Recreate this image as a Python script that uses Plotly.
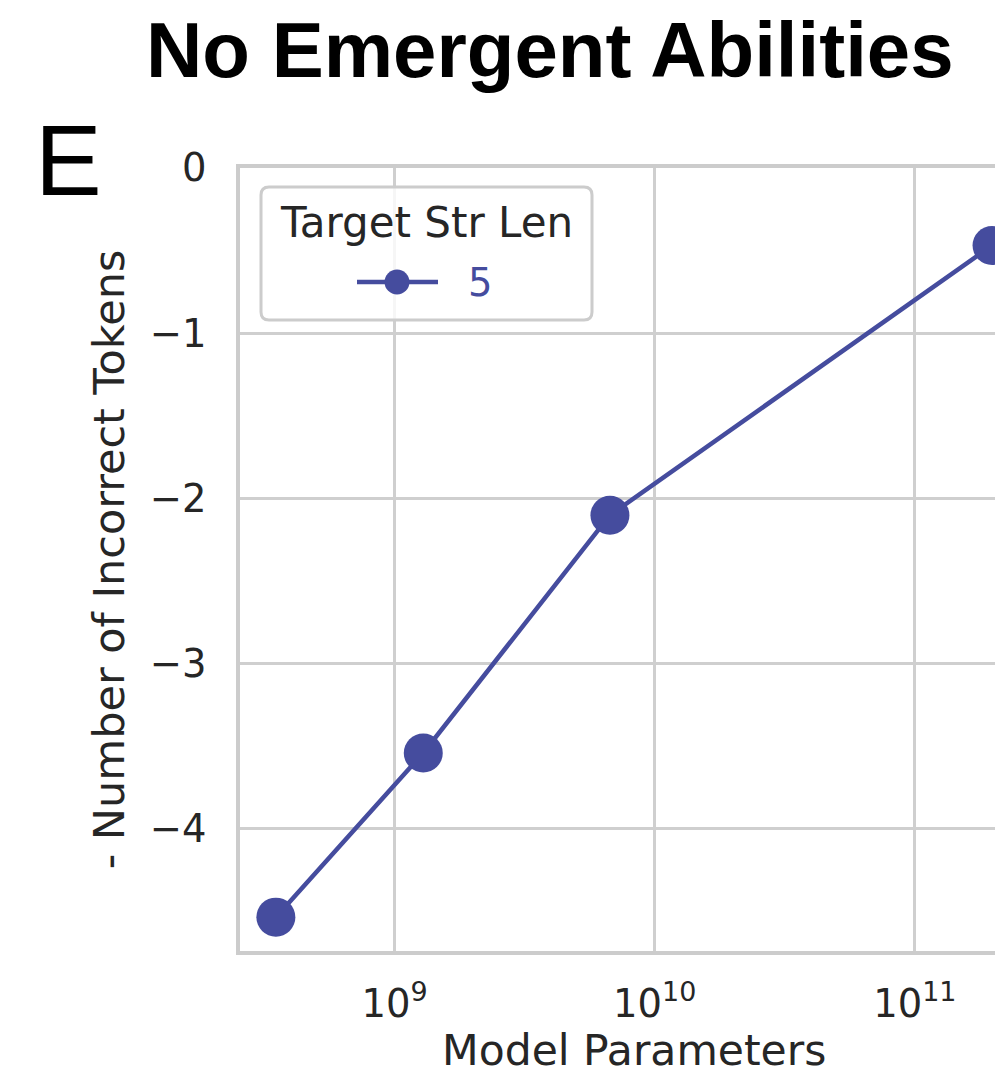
import plotly.graph_objects as go

# Model sizes (parameters) and negated count of incorrect tokens
model_params = [3.5e8, 1.29e9, 6.73e9, 1.98e11]
neg_incorrect_tokens = [-4.535, -3.541, -2.102, -0.469]
series_name = "5"
legend_title = "Target Str Len"
x_title = "Model Parameters"
y_title = "- Number of Incorrect Tokens"

x_tick_vals = [1e9, 1e10, 1e11]
x_tick_text = ["10<sup>9</sup>", "10<sup>10</sup>", "10<sup>11</sup>"]
y_tick_vals = [-4, -3, -2, -1, 0]
y_tick_text = ["\u22124", "\u22123", "\u22122", "\u22121", "0"]

LINE_COLOR = "#454C9E"
TEXT_COLOR = "#262626"
GRID_COLOR = "#cfcfcf"
FONT = "DejaVu Sans"

W, H = 995, 1073
M_L, M_R, M_T, M_B = 240, 0, 168, 122

fig = go.Figure()
fig.add_trace(go.Scatter(
    x=model_params,
    y=neg_incorrect_tokens,
    mode="lines+markers",
    name=series_name,
    showlegend=False,
    line=dict(color=LINE_COLOR, width=4.5),
    marker=dict(color=LINE_COLOR, size=39, line=dict(width=0)),
))

plot_w = W - M_L - M_R
plot_h = H - M_T - M_B


def px_x(px):
    return (px - M_L) / plot_w


def px_y(py):
    return 1 - (py - M_T) / plot_h


def rounded_rect(x0, y0, x1, y1, r):
    """SVG path (paper coords) for a rounded box given in pixel coords."""
    rx, ry = r / plot_w, r / plot_h
    a0, a1 = px_x(x0), px_x(x1)
    b0, b1 = px_y(y1), px_y(y0)  # bottom, top in paper units
    return (f"M{a0 + rx},{b0} L{a1 - rx},{b0} Q{a1},{b0} {a1},{b0 + ry} "
            f"L{a1},{b1 - ry} Q{a1},{b1} {a1 - rx},{b1} "
            f"L{a0 + rx},{b1} Q{a0},{b1} {a0},{b1 - ry} "
            f"L{a0},{b0 + ry} Q{a0},{b0} {a0 + rx},{b0} Z")


# Legend box drawn as a framed panel inside the axes
LEG_L, LEG_R, LEG_T, LEG_B = 261, 592, 187, 320
item_y = 282
shapes = [
    dict(type="path", xref="paper", yref="paper",
         path=rounded_rect(LEG_L, LEG_T, LEG_R, LEG_B, 8),
         fillcolor="rgba(255,255,255,0.8)", line=dict(color="#cccccc", width=3),
         layer="above"),
    dict(type="line", xref="paper", yref="paper",
         x0=px_x(357), x1=px_x(438), y0=px_y(item_y), y1=px_y(item_y),
         line=dict(color=LINE_COLOR, width=4.5), layer="above"),
    dict(type="circle", xref="paper", yref="paper",
         x0=px_x(397 - 12.5), x1=px_x(397 + 12.5),
         y0=px_y(item_y + 12.5), y1=px_y(item_y - 12.5),
         fillcolor=LINE_COLOR, line=dict(width=0), layer="above"),
]

fig.update_layout(
    width=W,
    height=H,
    margin=dict(l=M_L, r=M_R, t=M_T, b=M_B, pad=0),
    paper_bgcolor="white",
    plot_bgcolor="white",
    font=dict(family=FONT, color=TEXT_COLOR, size=38),
    showlegend=False,
    xaxis=dict(
        type="log",
        range=[8.4062, 11.308],
        tickmode="array",
        tickvals=x_tick_vals,
        ticktext=x_tick_text,
        tickfont=dict(size=38.5, color=TEXT_COLOR),
        ticklabelstandoff=16,
        showgrid=True, gridcolor=GRID_COLOR, gridwidth=3,
        showline=True, linecolor="#cccccc", linewidth=3.5, mirror=True,
        zeroline=False, ticks="", automargin=False,
    ),
    yaxis=dict(
        range=[-4.74, 0],
        tickmode="array",
        tickvals=y_tick_vals,
        ticktext=y_tick_text,
        tickfont=dict(size=38.5, color=TEXT_COLOR),
        ticklabelstandoff=22,
        showgrid=True, gridcolor=GRID_COLOR, gridwidth=3,
        showline=True, linecolor="#cccccc", linewidth=3.5, mirror=False,
        zeroline=False, ticks="", automargin=False,
        title=dict(text=y_title, font=dict(size=43, color=TEXT_COLOR), standoff=13),
    ),
    shapes=shapes,
    annotations=[
        dict(text="<b>No Emergent Abilities</b>", xref="paper", yref="paper",
             x=px_x(550), y=px_y(50), xanchor="center", yanchor="middle",
             showarrow=False, font=dict(family="Liberation Sans", size=78, color="black")),
        dict(text="E", xref="paper", yref="paper",
             x=px_x(68), y=px_y(160), xanchor="center", yanchor="middle",
             showarrow=False, font=dict(family="Liberation Sans", size=100, color="black")),
        dict(text=x_title, xref="paper", yref="paper",
             x=px_x(634), y=px_y(1073), xanchor="center", yanchor="bottom",
             height=42, valign="middle",
             showarrow=False, font=dict(family=FONT, size=42.5, color=TEXT_COLOR)),
        dict(text=legend_title, xref="paper", yref="paper",
             x=px_x((LEG_L + LEG_R) / 2), y=px_y(222), xanchor="center", yanchor="middle",
             showarrow=False, font=dict(family=FONT, size=42, color=TEXT_COLOR)),
        dict(text=series_name, xref="paper", yref="paper",
             x=px_x(466), y=px_y(item_y), xanchor="left", yanchor="middle",
             showarrow=False, font=dict(family=FONT, size=38.5, color=LINE_COLOR)),
    ],
)

fig.write_html("out.html")
